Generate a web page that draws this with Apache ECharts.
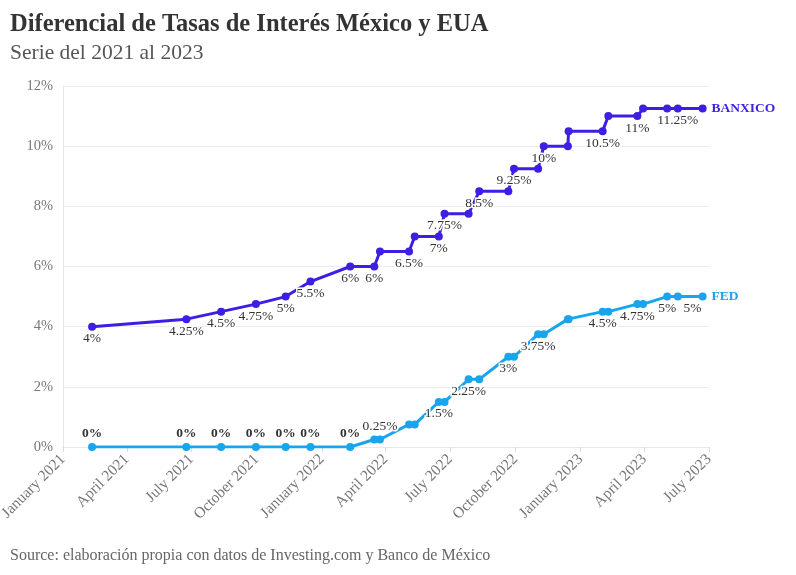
<!DOCTYPE html>
<html>
<head>
<meta charset="utf-8">
<script src="https://cdn.jsdelivr.net/npm/echarts@6/dist/echarts.min.js"></script>
<style>
html,body{margin:0;padding:0;background:#fff;}
#chart{width:796px;height:575px;}
</style>
</head>
<body>
<div id="chart"></div>
<script>
// ---- data ----
const dates = [
  '2021-02-11','2021-06-24','2021-08-12','2021-09-30','2021-11-11','2021-12-16',
  '2022-02-10','2022-03-16','2022-03-24','2022-05-04','2022-05-12','2022-06-15',
  '2022-06-23','2022-07-27','2022-08-11','2022-09-21','2022-09-29','2022-11-02',
  '2022-11-10','2022-12-14','2022-12-15','2023-02-01','2023-02-09','2023-03-22',
  '2023-03-30','2023-05-03','2023-05-18','2023-06-22'
];
const banxico = [4, 4.25, 4.5, 4.75, 5, 5.5, 6, 6, 6.5, 6.5, 7, 7, 7.75, 7.75, 8.5, 8.5,
  9.25, 9.25, 10, 10, 10.5, 10.5, 11, 11, 11.25, 11.25, 11.25, 11.25];
const fed = [0, 0, 0, 0, 0, 0, 0, 0.25, 0.25, 0.75, 0.75, 1.5, 1.5, 2.25, 2.25, 3, 3,
  3.75, 3.75, 4.25, 4.25, 4.5, 4.5, 4.75, 4.75, 5, 5, 5];
// which points carry a value label
const banxicoLabeled = [0,1,2,3,4,5,6,7,9,11,12,14,16,18,21,23,26];
const fedLabeled = [0,1,2,3,4,5,6,8,11,13,15,17,21,23,25,27];
const tickDates = ['2021-01-01','2021-04-01','2021-07-01','2021-10-01','2022-01-01','2022-04-01',
  '2022-07-01','2022-10-01','2023-01-01','2023-04-01','2023-07-01'];
const tickLabels = ['January 2021','April 2021','July 2021','October 2021','January 2022','April 2022',
  'July 2022','October 2022','January 2023','April 2023','July 2023'];

// ---- helpers ----
function ts(s){ const p = s.split('-').map(Number); return Date.UTC(p[0], p[1]-1, p[2]); }
const tickTs = tickDates.map(ts);
const labelMap = {};
tickTs.forEach((t,i)=>{ labelMap[t] = tickLabels[i]; });

const serif = 'Liberation Serif';
const labelBase = {
  show: true, color: '#333', fontFamily: serif, fontSize: 13.5,
  textBorderColor: '#fff', textBorderWidth: 3,
  formatter: p => p.value[1] + '%'
};

function build(values, labeled, kind){
  return values.map((v,i)=>{
    const item = { value: [ts(dates[i]), v] };
    if (labeled.indexOf(i) >= 0){
      let lab = Object.assign({}, labelBase);
      if (kind === 'fed' && v === 0){
        lab.position = 'top'; lab.distance = 2; lab.fontWeight = 'bold';
      } else if (kind === 'fed' && v === 0.25){
        lab.position = 'top'; lab.distance = 2;
      } else {
        lab.position = 'bottom'; lab.distance = 1;
      }
      if (kind === 'fed' && i === values.length-1){ lab.offset = [-10, 0]; }
      item.label = lab;
    }
    return item;
  });
}

const chart = echarts.init(document.getElementById('chart'), null, {renderer:'canvas'});
const option = {
  animation: false,
  backgroundColor: '#fff',
  title: {
    text: 'Diferencial de Tasas de Interés México y EUA',
    subtext: 'Serie del 2021 al 2023',
    left: 5, top: 7, itemGap: 5,
    textStyle: { fontFamily: serif, fontSize: 24.5, fontWeight: 'bold', color: '#333' },
    subtextStyle: { fontFamily: serif, fontSize: 21.5, color: '#555' }
  },
  graphic: [{
    type: 'text', left: 10, top: 548,
    style: { text: 'Source: elaboración propia con datos de Investing.com y Banco de México',
      fontFamily: serif, fontSize: 16, fill: '#666' }
  }],
  grid: { left: 63, right: 87, top: 86, bottom: 128, containLabel: false, outerBoundsMode: 'none' },
  xAxis: {
    type: 'value',
    min: ts('2021-01-01'), max: ts('2023-07-01'),
    axisLine: { show: true, lineStyle: { color: '#e8e8e8' } },
    axisTick: { show: true, length: 5, lineStyle: { color: '#dcdcdc' }, customValues: tickTs },
    splitLine: { show: false },
    axisLabel: {
      customValues: tickTs,
      rotate: 45, margin: 10, color: '#777', fontFamily: serif, fontSize: 15.5,
      formatter: v => labelMap[v] || ''
    }
  },
  yAxis: {
    type: 'value', min: 0, max: 12, interval: 2,
    axisLine: { show: true, lineStyle: { color: '#e8e8e8' } },
    axisTick: { show: false },
    splitLine: { lineStyle: { color: '#ececec' } },
    axisLabel: { margin: 10, color: '#777', fontFamily: serif, fontSize: 14.5, formatter: '{value}%' }
  },
  series: [
    {
      name: 'BANXICO', type: 'line', symbol: 'circle', symbolSize: 8,
      color: '#3d1fe3', lineStyle: { width: 3 },
      data: build(banxico, banxicoLabeled, 'banxico'),
      endLabel: { show: true, formatter: '{a}', distance: 9, color: '#3d1fe3',
        fontFamily: serif, fontSize: 13.5, fontWeight: 'bold' },
      z: 3
    },
    {
      name: 'FED', type: 'line', symbol: 'circle', symbolSize: 8,
      color: '#18a5ee', lineStyle: { width: 3 },
      data: build(fed, fedLabeled, 'fed'),
      endLabel: { show: true, formatter: '{a}', distance: 9, color: '#18a5ee',
        fontFamily: serif, fontSize: 13.5, fontWeight: 'bold' },
      z: 2
    }
  ]
};
chart.setOption(option);
</script>
</body>
</html>
